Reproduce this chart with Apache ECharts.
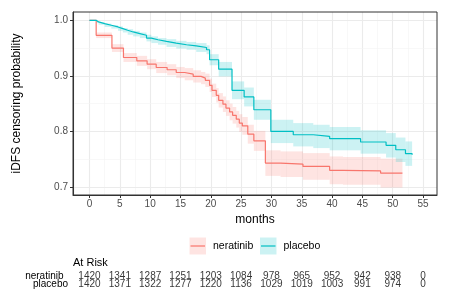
<!DOCTYPE html>
<html><head><meta charset="utf-8">
<script src="https://cdn.jsdelivr.net/npm/echarts@6/dist/echarts.min.js"></script>
<style>html,body{margin:0;padding:0;background:#fff}#c{width:449px;height:299px}</style>
</head><body><div id="c"></div>
<script>
const FONT = 'Liberation Sans';
const groups = ['neratinib', 'placebo'];
const colors = ['#F8766D', '#00BFC4'];
const bandColors = ['rgba(248,118,109,0.2)', 'rgba(0,191,196,0.2)'];

// neratinib KM steps
const nerTime  = [0, 1.1, 3.7, 5.6, 7.8, 9.5, 11.0, 12.8, 14.3, 15.7, 17.1, 18.4, 19.1, 19.8, 20.2, 20.9, 21.3, 22.0, 22.5, 23.1, 23.6, 24.2, 24.7, 25.2, 26.1, 27.1, 29.0, 31.5, 35.2, 39.6, 41.8, 48.0, 51.6];
const nerSurv  = [1.0, 0.973, 0.950, 0.933, 0.927, 0.921, 0.915, 0.911, 0.906, 0.903, 0.899, 0.896, 0.892, 0.883, 0.874, 0.865, 0.856, 0.849, 0.842, 0.835, 0.829, 0.822, 0.815, 0.810, 0.795, 0.783, 0.743, 0.741, 0.737, 0.730, 0.729, 0.725, 0.725];
const nerUpper = [1.0, 0.978, 0.957, 0.941, 0.936, 0.930, 0.925, 0.921, 0.916, 0.914, 0.910, 0.907, 0.904, 0.895, 0.886, 0.878, 0.869, 0.863, 0.856, 0.850, 0.844, 0.837, 0.831, 0.826, 0.812, 0.801, 0.766, 0.764, 0.761, 0.755, 0.754, 0.751, 0.751];
const nerLower = [1.0, 0.968, 0.943, 0.925, 0.918, 0.912, 0.905, 0.901, 0.896, 0.892, 0.888, 0.885, 0.880, 0.871, 0.862, 0.852, 0.843, 0.835, 0.828, 0.820, 0.814, 0.807, 0.799, 0.794, 0.778, 0.765, 0.720, 0.718, 0.713, 0.705, 0.704, 0.699, 0.699];

// placebo KM steps
const plaTime  = [0, 1.1, 1.5, 2.5, 3.6, 4.7, 5.5, 6.3, 7.2, 8.3, 9.4, 10.2, 11.3, 12.7, 14.3, 16.0, 17.6, 19.3, 19.8, 21.3, 23.5, 25.5, 27.1, 29.9, 33.6, 36.9, 39.6, 44.7, 48.9, 50.5, 52.1, 53.2];
const plaSurv  = [1.0, 0.997, 0.994, 0.991, 0.988, 0.985, 0.982, 0.979, 0.976, 0.973, 0.968, 0.965, 0.962, 0.959, 0.956, 0.954, 0.951, 0.947, 0.929, 0.912, 0.874, 0.862, 0.839, 0.800, 0.794, 0.791, 0.787, 0.781, 0.775, 0.767, 0.760, 0.758];
const plaUpper = [1.0, 0.999, 0.996, 0.994, 0.991, 0.989, 0.986, 0.984, 0.981, 0.978, 0.974, 0.971, 0.968, 0.966, 0.963, 0.961, 0.959, 0.955, 0.939, 0.925, 0.890, 0.879, 0.857, 0.821, 0.815, 0.812, 0.808, 0.802, 0.797, 0.789, 0.782, 0.780];
const plaLower = [1.0, 0.995, 0.992, 0.988, 0.985, 0.981, 0.978, 0.974, 0.971, 0.968, 0.962, 0.959, 0.956, 0.952, 0.949, 0.947, 0.943, 0.939, 0.919, 0.899, 0.858, 0.845, 0.821, 0.779, 0.773, 0.770, 0.766, 0.760, 0.753, 0.745, 0.738, 0.736];

// risk table
const riskTimes = [0, 5, 10, 15, 20, 25, 30, 35, 40, 45, 50, 55];
const riskNeratinib = [1420, 1341, 1287, 1251, 1203, 1084, 978, 965, 952, 942, 938, 0];
const riskPlacebo   = [1420, 1371, 1322, 1277, 1220, 1136, 1029, 1019, 1003, 991, 974, 0];

// axes
const xTicks = [0, 5, 10, 15, 20, 25, 30, 35, 40, 45, 50, 55];
const xMinor = [-2.5, 2.5, 7.5, 12.5, 17.5, 22.5, 27.5, 32.5, 37.5, 42.5, 47.5, 52.5];
const yTicks = [0.7, 0.8, 0.9, 1.0];
const yMinor = [0.75, 0.85, 0.95];
const X_MIN = -2.72, X_MAX = 57.3, Y_MIN = 0.6856, Y_MAX = 1.0149;

function ribbonData(t, lo, hi) {
  return t.map((v, i) => [v, i + 1 < t.length ? t[i + 1] : v, lo[i], hi[i]]);
}
function ribbonSeries(name, data, color) {
  return {
    type: 'custom', name, xAxisIndex: 0, yAxisIndex: 0, z: 1, silent: true, clip: true,
    data,
    renderItem: (params, api) => {
      const p0 = api.coord([api.value(0), api.value(3)]);
      const p1 = api.coord([api.value(1), api.value(2)]);
      return { type: 'rect', shape: { x: p0[0], y: p0[1], width: p1[0] - p0[0], height: p1[1] - p0[1] },
               style: { fill: color } };
    }
  };
}
function kmSeries(name, t, s, color) {
  return {
    type: 'line', name, step: 'end', xAxisIndex: 0, yAxisIndex: 0, z: 3,
    showSymbol: false, symbol: 'none', silent: true,
    data: t.map((v, i) => [v, s[i]]),
    lineStyle: { color, width: 1.2 }
  };
}
const MAJOR = { color: '#EBEBEB', width: 1.1, type: 'solid' };
const MINOR = { color: '#F4F4F4', width: 0.6, type: 'solid' };
const gridLines = [];
xTicks.forEach(v => gridLines.push({ xAxis: v, lineStyle: MAJOR }));
xMinor.forEach(v => gridLines.push({ xAxis: v, lineStyle: MINOR }));
yTicks.forEach(v => gridLines.push({ yAxis: v, lineStyle: MAJOR }));
yMinor.forEach(v => gridLines.push({ yAxis: v, lineStyle: MINOR }));

const chart = echarts.init(document.getElementById('c'), null, { renderer: 'canvas' });
chart.setOption({
  animation: false,
  textStyle: { fontFamily: FONT },
  grid: [
    { left: 73, top: 12, width: 364, height: 183, show: true, borderColor: '#333333', borderWidth: 1, backgroundColor: 'transparent', z: 4 },
    { left: 73, top: 272.9, width: 364, height: 15.2 }
  ],
  xAxis: [
    { type: 'value', gridIndex: 0, min: X_MIN, max: X_MAX,
      name: 'months', nameLocation: 'middle', nameGap: 17,
      nameTextStyle: { color: '#000', fontSize: 12, fontFamily: FONT },
      axisLine: { show: true, onZero: false, lineStyle: { color: '#333333', width: 1 } },
      axisTick: { show: true, inside: false, length: 3, customValues: xTicks, lineStyle: { color: '#333333', width: 1 } },
      axisLabel: { customValues: xTicks, color: '#4D4D4D', fontSize: 10, margin: 4, fontFamily: FONT, formatter: v => String(v) },
      splitLine: { show: false } },
    { type: 'value', gridIndex: 1, min: X_MIN, max: X_MAX, show: false }
  ],
  yAxis: [
    { type: 'value', gridIndex: 0, min: Y_MIN, max: Y_MAX,
      name: 'iDFS censoring probability', nameLocation: 'middle', nameGap: 50,
      nameTextStyle: { color: '#000', fontSize: 12, fontFamily: FONT },
      axisLine: { show: true, onZero: false, lineStyle: { color: '#333333', width: 1 } },
      axisTick: { show: true, inside: false, length: 3, customValues: yTicks, lineStyle: { color: '#333333', width: 1 } },
      axisLabel: { customValues: yTicks, color: '#4D4D4D', fontSize: 10, margin: 5, fontFamily: FONT, formatter: v => v.toFixed(1) },
      splitLine: { show: false } },
    { type: 'category', gridIndex: 1, data: groups, inverse: true,
      axisLine: { show: false }, axisTick: { show: false }, splitLine: { show: false },
      axisLabel: { interval: 0, hideOverlap: false, margin: 5, color: '#000', fontSize: 10, fontFamily: FONT,
        formatter: v => v === 'neratinib' ? '{a|' + v + '}' : '{b|' + v + '}',
        rich: { a: { fontSize: 10, fontFamily: FONT, color: '#000', padding: [0, 4.5, 0, 0] },
                b: { fontSize: 10, fontFamily: FONT, color: '#000' } } } }
  ],
  series: [
    { type: 'line', name: 'grid', xAxisIndex: 0, yAxisIndex: 0, z: 0, silent: true, symbol: 'none',
      data: [[0, 1]], lineStyle: { opacity: 0 },
      markLine: { z: 0, silent: true, symbol: ['none', 'none'], label: { show: false }, animation: false, data: gridLines } },
    ribbonSeries('neratinib band', ribbonData(nerTime, nerLower, nerUpper), bandColors[0]),
    ribbonSeries('placebo band', ribbonData(plaTime, plaLower, plaUpper), bandColors[1]),
    kmSeries('neratinib', nerTime, nerSurv, colors[0]),
    kmSeries('placebo', plaTime, plaSurv, colors[1]),
    { type: 'scatter', name: 'risk neratinib', xAxisIndex: 1, yAxisIndex: 1, symbolSize: 1, silent: true,
      itemStyle: { color: 'transparent' },
      data: riskTimes.map((t, i) => [t, groups[0], riskNeratinib[i]]),
      label: { show: true, position: 'inside', formatter: p => String(p.value[2]), color: '#000', fontSize: 10, fontFamily: FONT } },
    { type: 'scatter', name: 'risk placebo', xAxisIndex: 1, yAxisIndex: 1, symbolSize: 1, silent: true,
      itemStyle: { color: 'transparent' },
      data: riskTimes.map((t, i) => [t, groups[1], riskPlacebo[i]]),
      label: { show: true, position: 'inside', formatter: p => String(p.value[2]), color: '#000', fontSize: 10, fontFamily: FONT } }
  ],
  graphic: [
    { type: 'rect', shape: { x: 189.5, y: 237.5, width: 16.5, height: 17 }, style: { fill: bandColors[0] } },
    { type: 'line', shape: { x1: 190.5, y1: 246, x2: 205, y2: 246 }, style: { stroke: colors[0], lineWidth: 1.2 } },
    { type: 'text', x: 213, y: 246, style: { text: groups[0], fontSize: 10.5, fontFamily: FONT, fill: '#000', verticalAlign: 'middle' } },
    { type: 'rect', shape: { x: 260, y: 237.5, width: 16.5, height: 17 }, style: { fill: bandColors[1] } },
    { type: 'line', shape: { x1: 261, y1: 246, x2: 275.5, y2: 246 }, style: { stroke: colors[1], lineWidth: 1.2 } },
    { type: 'text', x: 283.5, y: 246, style: { text: groups[1], fontSize: 10.5, fontFamily: FONT, fill: '#000', verticalAlign: 'middle' } },
    { type: 'text', x: 73, y: 263, style: { text: 'At Risk', fontSize: 11, fontFamily: FONT, fill: '#000', verticalAlign: 'middle' } }
  ]
});
</script>
</body></html>
